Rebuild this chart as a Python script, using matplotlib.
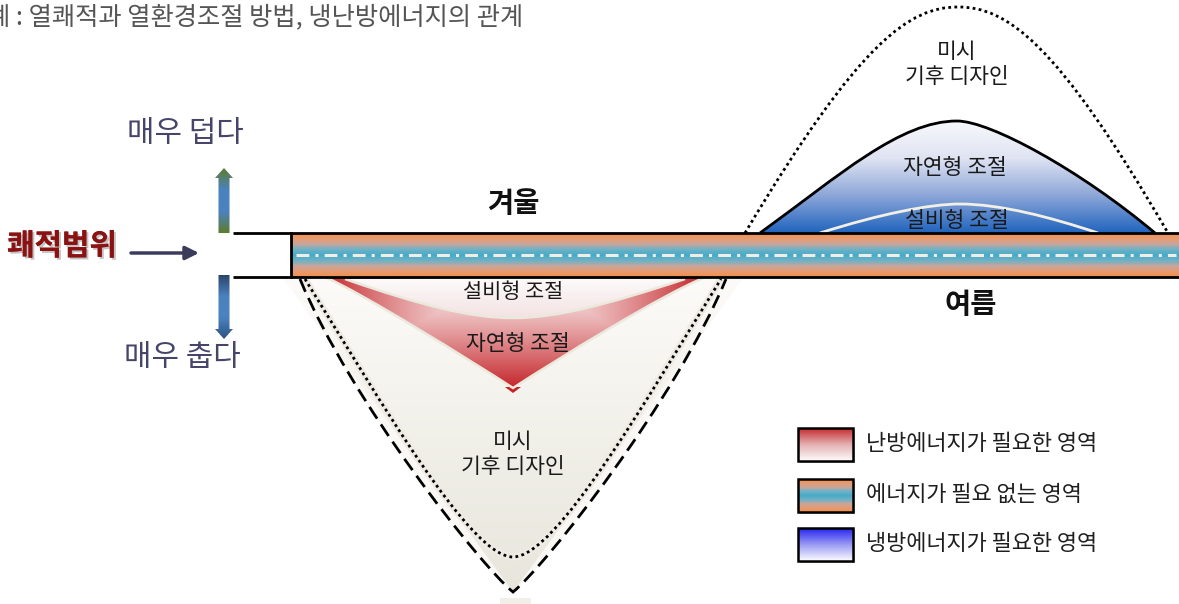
import numpy as np
import matplotlib
matplotlib.use("Agg")
import matplotlib.pyplot as plt
from matplotlib.path import Path
from matplotlib.patches import PathPatch, Polygon, Rectangle
from matplotlib.colors import LinearSegmentedColormap
import matplotlib.patheffects as pe

plt.rcParams["font.family"] = ["Noto Sans CJK KR", "DejaVu Sans"]

W, H = 1179, 604

# --- 도형 좌표 (픽셀, y는 아래로) ---
band_x = [291, 1179]
band_y = [233, 277]
bracket_x0 = 233

# 여름(위쪽) 곡선: 베지어 제어점
hot_micro = [(745, 233), (860, 40), (910, 7), (958, 7), (1006, 7), (1056, 40), (1168, 233)]
hot_nat = [(760, 233), (840, 175), (900, 121), (957, 121), (990, 121), (1080, 170), (1155, 233)]
hot_mech = [(820, 233), (880, 214), (930, 204), (960, 204), (1000, 204), (1050, 217), (1098, 233)]

# 겨울(아래쪽) 곡선
cold_outer = [(300, 279), (350, 400), (480, 565), (513, 592), (546, 565), (676, 400), (726, 279)]
cold_micro = [(305, 279), (380, 400), (470, 557), (513, 557), (556, 557), (646, 400), (721, 279)]
cold_nat = [(325, 277), (360, 292), (470, 360), (513, 388), (556, 360), (666, 292), (706, 277)]
cold_mech = [(345, 279), (420, 305), (470, 318), (513, 318), (556, 318), (606, 305), (685, 279)]

# 텍스트
title = "예 : 열쾌적과 열환경조절 방법, 냉난방에너지의 관계"
legend_labels = ["난방에너지가 필요한 영역", "에너지가 필요 없는 영역", "냉방에너지가 필요한 영역"]
band_colors = ["#f0904c", "#e89a70", "#c8a69c", "#6cb2c6", "#48aac8",
               "#6cb2c6", "#c8a69c", "#e89a70", "#f0904c"]
legend_colors = [["#c62a2c", "#e4b0b2", "#fefcfc"],
                 band_colors,
                 ["#2424f0", "#9a9af4", "#fdfdff"]]
blue_colors = ["#f8f9fc", "#dfe3f2", "#8ca6d8", "#2064be"]
beige_colors = ["#fcfbf9", "#f1f0e9", "#e8e6dc"]


def bez(pts, close=False):
    codes = [Path.MOVETO] + [Path.CURVE4] * (len(pts) - 1)
    verts = list(pts)
    if close:
        verts.append(pts[0])
        codes.append(Path.CLOSEPOLY)
    return Path(verts, codes)


def vgrad(ax, clip, x0, x1, y0, y1, colors, z):
    cmap = LinearSegmentedColormap.from_list("g", colors)
    arr = np.linspace(0, 1, 256).reshape(-1, 1)
    im = ax.imshow(arr, cmap=cmap, extent=(x0, x1, y1, y0), origin="upper",
                   aspect="auto", zorder=z, interpolation="bilinear")
    if clip is not None:
        patch = PathPatch(clip, transform=ax.transData, facecolor="none", edgecolor="none")
        im.set_clip_path(patch)
    return im


fig = plt.figure(figsize=(W / 100, H / 100), dpi=100)
ax = fig.add_axes([0, 0, 1, 1])

# 겨울 영역: 베이지 바탕
outer_path = bez(cold_outer, close=True)
ax.add_patch(PathPatch(outer_path, facecolor="#f9f8f4", edgecolor="none", zorder=1))
tri = Path([(282, 277), (744, 277), (513, 592), (282, 277)],
           [Path.MOVETO, Path.LINETO, Path.LINETO, Path.CLOSEPOLY])
im = vgrad(ax, None, 282, 744, 277, 592, beige_colors, 1.5)
im.set_clip_path(PathPatch(tri, transform=ax.transData))
ax.add_patch(Rectangle((500, 598), 31, 6, facecolor="#f1efe8", edgecolor="none", zorder=1))

# 난방 영역 (붉은 그라데이션)
xs = np.linspace(320, 710, 400)
ys = np.linspace(277, 394, 120)
X, Y = np.meshgrid(xs, ys)
tv = np.clip((Y - 277) / 111, 0, 1)
th = np.clip(np.abs(X - 513) / 190, 0, 1)
t = np.maximum(tv ** 1.2, th ** 1.5)[..., None]
pale = np.array([0.99, 0.96, 0.96])
red = np.array([0.77, 0.15, 0.17])
rgb = pale * (1 - t) + red * t
red_im = ax.imshow(rgb, extent=(320, 710, 394, 277), origin="upper", aspect="auto",
                   zorder=2, interpolation="bilinear")
red_im.set_clip_path(PathPatch(bez(cold_nat, close=True), transform=ax.transData))
tip = Polygon([(505, 387), (521, 387), (513, 393)], closed=True, facecolor="#c42226",
              edgecolor="none", zorder=2)
ax.add_patch(tip)
vgrad(ax, bez(cold_mech, close=True), 340, 690, 277, 319,
      ["#fdfcfb", "#f8eeee", "#f3e2e3"], 2.5)
ax.add_patch(PathPatch(bez(cold_mech), facecolor="none", edgecolor="#ebe8dc", lw=1.8, zorder=3))
ax.add_patch(PathPatch(bez(cold_nat), facecolor="none", edgecolor="#ebe8dc", lw=1.8, zorder=3))

# 경계선
ax.add_patch(PathPatch(bez(cold_micro), facecolor="none", edgecolor="#edebe3", lw=5, zorder=3))
ax.add_patch(PathPatch(bez(cold_outer), facecolor="none", edgecolor="black", lw=2,
                       linestyle=(0, (5, 2.5)), zorder=4))
ax.add_patch(PathPatch(bez(cold_micro), facecolor="none", edgecolor="black", lw=2,
                       linestyle=(0, (1, 1.2)), zorder=4))

# 여름 영역
nat_path = bez(hot_nat, close=True)
vgrad(ax, nat_path, 750, 1165, 121, 233, blue_colors, 2)
ax.add_patch(PathPatch(bez(hot_mech), facecolor="none", edgecolor="#f2efe4", lw=2, zorder=3))
ax.add_patch(PathPatch(bez(hot_nat), facecolor="none", edgecolor="black", lw=2, zorder=4))
ax.add_patch(PathPatch(bez(hot_micro), facecolor="none", edgecolor="black", lw=2,
                       linestyle=(0, (1, 1.2)), zorder=4))

# 텍스트 (도형 안)
txt = dict(ha="center", va="center", color="#1a1a1a", zorder=5)
ax.text(957, 52, "미시", fontsize=15.5, **txt)
ax.text(957, 77, "기후 디자인", fontsize=15.5, **txt)
ax.text(955, 168, "자연형 조절", fontsize=15.5, **txt)
ax.text(957, 221, "설비형 조절", fontsize=15.5, **txt)
ax.text(513, 292, "설비형 조절", fontsize=15, **txt)
ax.text(518, 344, "자연형 조절", fontsize=15.5, **txt)
ax.text(513, 442, "미시", fontsize=15.5, **txt)
ax.text(513, 467, "기후 디자인", fontsize=15.5, **txt)

# 쾌적 범위 밴드
vgrad(ax, None, band_x[0], band_x[1], band_y[0], band_y[1], band_colors, 6)
ax.plot([296, 1176], [255, 255], color="#efeee6", lw=2.2,
        linestyle=(0, (4.2, 2, 1, 2)), zorder=7)
ax.plot([bracket_x0, W], [band_y[0], band_y[0]], color="black", lw=2, zorder=8,
        solid_capstyle="butt")
ax.plot([bracket_x0, W], [band_y[1], band_y[1]], color="black", lw=2, zorder=8,
        solid_capstyle="butt")
ax.plot([band_x[0], band_x[0]], band_y, color="black", lw=2, zorder=8)

ax.text(513, 204, "겨울", fontsize=20.5, fontweight="bold", ha="center", va="center",
        color="#111111", zorder=5)
ax.text(971, 305, "여름", fontsize=20.5, fontweight="bold", ha="center", va="center",
        color="#111111", zorder=5)

# 왼쪽 화살표
up = Path([(218.5, 233), (218.5, 178), (215, 178), (224, 168), (233, 178),
           (229.5, 178), (229.5, 233), (218.5, 233)],
          [Path.MOVETO] + [Path.LINETO] * 6 + [Path.CLOSEPOLY])
vgrad(ax, up, 214, 234, 168, 233, ["#5e7c2e", "#4a82c0", "#4a82c0", "#5e7c2e"], 5)
down = Path([(218.5, 275), (218.5, 329), (215, 329), (224, 339), (233, 329),
             (229.5, 329), (229.5, 275), (218.5, 275)],
            [Path.MOVETO] + [Path.LINETO] * 6 + [Path.CLOSEPOLY])
vgrad(ax, down, 214, 234, 275, 339, ["#2c4468", "#4a82c0", "#4a82c0", "#2e5282"], 5)

ax.annotate("", xy=(199, 253), xytext=(131, 253),
            arrowprops=dict(arrowstyle="-|>", color="#3b3b5c", lw=2.5, mutation_scale=20,
                            shrinkA=0, shrinkB=0))
ax.text(185, 133, "매우 덥다", fontsize=21.5, ha="center", va="center", color="#45456a")
ax.text(182, 357, "매우 춥다", fontsize=21.5, ha="center", va="center", color="#45456a")
ax.text(62, 246, "쾌적범위", fontsize=21.5, fontweight="bold", ha="center", va="center",
        color="#8a1212",
        path_effects=[pe.withSimplePatchShadow(offset=(1.5, -1.5), shadow_rgbFace="#888888",
                                               alpha=0.5), pe.Normal()])

# 제목 (원본처럼 왼쪽 끝이 잘림)
ax.text(-13, 17, title, fontsize=18.2, ha="left", va="center", color="#555555")

# 범례
box_tops = [428, 479, 528]
for top, cols, lab in zip(box_tops, legend_colors, legend_labels):
    ax.add_patch(Rectangle((800, top + 2), 55, 33, facecolor="#bbbbbb", edgecolor="none",
                           zorder=5))
    vgrad(ax, None, 798, 853, top, top + 33, cols, 6)
    ax.add_patch(Rectangle((798, top), 55, 33, facecolor="none", edgecolor="black", lw=1.8,
                           zorder=7))
    ax.text(866, top + 16, lab, fontsize=15.8, ha="left", va="center", color="#1e1e1e")

ax.set_xlim(0, W)
ax.set_ylim(H, 0)
ax.axis("off")
fig.savefig("out.png", dpi=100)
